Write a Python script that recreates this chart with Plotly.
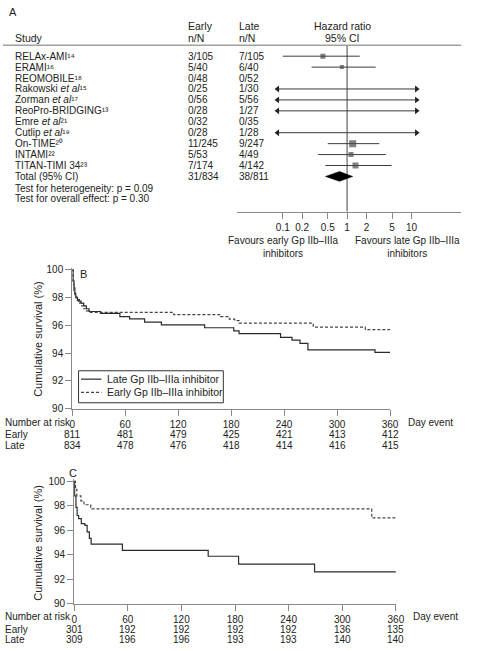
import plotly.graph_objects as go

W, H = 477, 651


def px(x):
    return x / W


def py(y):
    return 1 - y / H


# ---------------- Panel A data ----------------
studies = ["RELAx-AMI\u00b9\u2074", "ERAMI\u00b9\u2076", "REOMOBILE\u00b9\u2078",
           "Rakowski <i>et al</i>\u00b9\u2075", "Zorman <i>et al</i>\u00b9\u2077",
           "ReoPro-BRIDGING\u00b9\u00b3", "Emre <i>et al</i>\u00b2\u00b9",
           "Cutlip <i>et al</i>\u00b9\u2079", "On-TIME\u00b2\u2070", "INTAMI\u00b2\u00b2",
           "TITAN-TIMI 34\u00b2\u00b3", "Total (95% CI)"]
early_nN = ["3/105", "5/40", "0/48", "0/25", "0/56", "0/28", "0/32", "0/28",
            "11/245", "5/53", "7/174", "31/834"]
late_nN = ["7/105", "6/40", "0/52", "1/30", "5/56", "1/27", "0/35", "1/28",
           "9/247", "4/49", "4/142", "38/811"]
hr = [0.42, 0.83, None, None, None, None, None, None, 1.22, 1.15, 1.35]
ci_lo = [0.10, 0.28, None, 0.005, 0.005, 0.005, None, 0.005, 0.50, 0.355, 0.46]
ci_hi = [1.57, 2.78, None, 150, 150, 150, None, 150, 3.16, 4.0, 4.9]
weight = [5, 4, 0, 0, 0, 0, 0, 0, 7, 5, 6]
total_hr, total_lo, total_hi = 0.76, 0.46, 1.22
hr_ticks = [0.1, 0.2, 0.5, 1, 2, 5, 10]
hr_tick_text = ["0.1", "0.2", "0.5", "1", "2", "5", "10"]
tests = ["Test for heterogeneity: p = 0.09", "Test for overall effect: p = 0.30"]

# ---------------- Panel B / C data ----------------
risk_days = [0, 60, 120, 180, 240, 300, 360]
surv_ticks = [90, 92, 94, 96, 98, 100]

b_late_days = [0, 1, 2, 3, 4, 6, 8, 10, 13, 16, 19, 32, 54, 65, 82, 101, 150, 183, 189,
               236, 249, 258, 267, 343, 360]
b_late_surv = [100, 99.2, 98.7, 98.3, 98.0, 97.85, 97.75, 97.6, 97.4, 97.2, 97.0, 96.87,
               96.63, 96.47, 96.24, 96.04, 95.83, 95.6, 95.41, 95.13, 94.94, 94.7, 94.23,
               94.05, 94.05]
b_early_days = [0, 1, 2, 3, 5, 7, 10, 13, 16, 19, 115, 168, 178, 184, 189, 273, 332, 360]
b_early_surv = [100, 99.0, 98.5, 98.1, 97.8, 97.6, 97.4, 97.2, 97.05, 96.94, 96.77, 96.63,
                96.45, 96.35, 96.16, 95.88, 95.69, 95.69]
b_risk_early = [811, 481, 479, 425, 421, 413, 412]
b_risk_late = [834, 478, 476, 418, 414, 416, 415]

c_early_days = [0, 1.5, 3, 7.5, 11, 18.5, 333, 360]
c_early_surv = [100, 99.34, 98.8, 98.4, 98.08, 97.74, 97.0, 97.0]
c_late_days = [0, 0.5, 2, 3.3, 5, 8, 12, 14.5, 17, 19, 54, 150, 184, 269, 360]
c_late_surv = [100, 98.8, 97.87, 97.2, 96.94, 96.54, 96.4, 95.87, 95.34, 94.86, 94.35,
               93.87, 93.23, 92.59, 92.59]
c_risk_early = [301, 192, 192, 192, 192, 136, 135]
c_risk_late = [309, 196, 196, 193, 193, 140, 140]

# ---------------- styling ----------------
FONT = "Liberation Sans, Arial, Helvetica, sans-serif"
TXT = "#222222"
AXC = "#8a8a8a"
LINE = "#2a2a2a"
ARROW_LO, ARROW_HI = 0.083, 12.0

fig = go.Figure()

# ---- Panel A: forest plot ----
ROW_TOP, ROW_BOT = -0.99, 14.23
fig.add_trace(go.Scatter(x=[1, 1], y=[ROW_TOP, ROW_BOT], mode="lines",
                         line=dict(color=AXC, width=1.6), hoverinfo="skip",
                         showlegend=False, xaxis="x", yaxis="y"))
for i in range(len(hr)):
    if ci_lo[i] is None:
        continue
    lo = max(ci_lo[i], ARROW_LO)
    hi = min(ci_hi[i], ARROW_HI)
    fig.add_trace(go.Scatter(x=[lo, hi], y=[i, i], mode="lines",
                             line=dict(color="#3a3a3a", width=1), showlegend=False,
                             xaxis="x", yaxis="y"))
    if ci_lo[i] < ARROW_LO:
        fig.add_trace(go.Scatter(x=[lo], y=[i], mode="markers",
                                 marker=dict(symbol="triangle-left", size=6, color="#222"),
                                 showlegend=False, cliponaxis=False, xaxis="x", yaxis="y"))
    if ci_hi[i] > ARROW_HI:
        fig.add_trace(go.Scatter(x=[hi], y=[i], mode="markers",
                                 marker=dict(symbol="triangle-right", size=6, color="#222"),
                                 showlegend=False, cliponaxis=False, xaxis="x", yaxis="y"))
sq_idx = [i for i in range(len(hr)) if hr[i] is not None]
fig.add_trace(go.Scatter(x=[hr[i] for i in sq_idx], y=sq_idx, mode="markers",
                         marker=dict(symbol="square", size=[weight[i] for i in sq_idx],
                                     color="#4a4a4a", line=dict(width=0)),
                         showlegend=False, xaxis="x", yaxis="y"))
tr = len(studies) - 1
fig.add_trace(go.Scatter(x=[total_lo, total_hr, total_hi, total_hr, total_lo],
                         y=[tr, tr - 0.45, tr, tr + 0.45, tr], mode="lines", fill="toself",
                         fillcolor="black", line=dict(color="black", width=0.5),
                         showlegend=False, xaxis="x", yaxis="y"))

# ---- Panel B ----
fig.add_trace(go.Scatter(x=b_late_days, y=b_late_surv, mode="lines", line_shape="hv",
                         line=dict(color=LINE, width=1.2), name="Late Gp IIb\u2013IIIa inhibitor",
                         showlegend=False, xaxis="x2", yaxis="y2"))
fig.add_trace(go.Scatter(x=b_early_days, y=b_early_surv, mode="lines", line_shape="hv",
                         line=dict(color="#444", width=1.2, dash="3px,2px"),
                         name="Early Gp IIb\u2013IIIa inhibitor",
                         showlegend=False, xaxis="x2", yaxis="y2"))
# ---- Panel C ----
fig.add_trace(go.Scatter(x=c_late_days, y=c_late_surv, mode="lines", line_shape="hv",
                         line=dict(color=LINE, width=1.2), name="Late Gp IIb\u2013IIIa inhibitor",
                         showlegend=False, xaxis="x3", yaxis="y3"))
fig.add_trace(go.Scatter(x=c_early_days, y=c_early_surv, mode="lines", line_shape="hv",
                         line=dict(color="#444", width=1.2, dash="3px,2px"),
                         name="Early Gp IIb\u2013IIIa inhibitor",
                         showlegend=False, xaxis="x3", yaxis="y3"))

ann = []


def text(x, y, s, size=10, xanchor="left", xref="paper", yref="paper", **kw):
    ann.append(dict(x=x, y=y, text=s, xref=xref, yref=yref, xanchor=xanchor,
                    yanchor="middle", showarrow=False,
                    font=dict(size=size, color=TXT, family=FONT), **kw))


# Panel A texts
text(px(4), py(8), "A", size=11)
text(px(10), py(35), "Study", size=10.5)
text(px(188), py(22), "Early", size=10.5)
text(px(188), py(35), "n/N", size=10.5)
text(px(240), py(22), "Late", size=10.5)
text(px(240), py(35), "n/N", size=10.5)
text(px(348), py(22), "Hazard ratio", size=10.5, xanchor="center")
text(px(348), py(35), "95% CI", size=10.5, xanchor="center")
for i, s in enumerate(studies):
    text(px(10), i, s, yref="y")
    text(px(188), i, early_nN[i], yref="y")
    text(px(240), i, late_nN[i], yref="y")
text(px(10), py(187), tests[0])
text(px(10), py(198), tests[1])
text(px(287), py(247), "Favours early Gp IIb\u2013IIIa<br>inhibitors", xanchor="center")
text(px(415), py(247), "Favours late Gp IIb\u2013IIIa<br>inhibitors", xanchor="center")

# Panel B texts
text(px(77), py(274), "B", size=11)
text(px(36), py(340), "Cumulative survival (%)", size=11, xanchor="center", textangle=-90)
text(px(0), py(425.5), "Number at risk", size=10)
text(px(413), py(425.5), "Day event", size=10)
text(px(0), py(437), "Early", size=10)
text(px(0), py(448.5), "Late", size=10)
for d, e, l in zip(risk_days, b_risk_early, b_risk_late):
    text(d, py(437), str(e), xanchor="center", xref="x2")
    text(d, py(448.5), str(l), xanchor="center", xref="x2")

# Panel C texts
text(px(66), py(476), "C", size=11)
text(px(36), py(547), "Cumulative survival (%)", size=11, xanchor="center", textangle=-90)
text(px(0), py(622.5), "Number at risk", size=10)
text(px(419), py(622.5), "Day event", size=10)
text(px(0), py(635), "Early", size=10)
text(px(0), py(645.5), "Late", size=10)
for d, e, l in zip(risk_days, c_risk_early, c_risk_late):
    text(d, py(635), str(e), xanchor="center", xref="x3")
    text(d, py(645.5), str(l), xanchor="center", xref="x3")

# Legend (panel B)
text(px(105), py(381), "Late Gp IIb\u2013IIIa inhibitor", size=10.5)
text(px(105), py(394.5), "Early Gp IIb\u2013IIIa inhibitor", size=10.5)

shapes = [
    dict(type="line", xref="paper", yref="paper", x0=0, x1=px(470), y0=py(42), y1=py(42),
         line=dict(color="#a0a0a0", width=1.5)),
    dict(type="rect", xref="paper", yref="paper", x0=px(77.5), x1=px(226), y0=py(372.5),
         y1=py(405), line=dict(color="#333", width=1), fillcolor="white", layer="above"),
    dict(type="line", xref="paper", yref="paper", x0=px(80), x1=px(101), y0=py(381),
         y1=py(381), line=dict(color=LINE, width=1.2)),
    dict(type="line", xref="paper", yref="paper", x0=px(80), x1=px(101), y0=py(394.5),
         y1=py(394.5), line=dict(color="#444", width=1.2, dash="3px,2px")),
]

axis_common = dict(showline=True, linecolor=AXC, linewidth=1, ticks="outside", ticklen=6,
                   tickcolor=AXC, tickwidth=1, showgrid=False, zeroline=False,
                   tickfont=dict(size=10, color=TXT, family=FONT), fixedrange=True)

lo_log = (240 - 353) / 66.0
hi_log = (470 - 353) / 66.0

fig.update_layout(
    width=W, height=H, margin=dict(l=0, r=0, t=0, b=0),
    paper_bgcolor="white", plot_bgcolor="rgba(0,0,0,0)", showlegend=False,
    font=dict(family=FONT, color=TXT, size=10),
    xaxis=dict(axis_common, type="log", domain=[px(240), px(470)], range=[lo_log, hi_log],
               tickvals=hr_ticks, ticktext=hr_tick_text, anchor="y"),
    yaxis=dict(domain=[py(211), py(42)], range=[ROW_BOT, ROW_TOP], visible=False,
               anchor="x", fixedrange=True),
    xaxis2=dict(axis_common, domain=[px(71), px(397)], range=[0, 360], tickvals=risk_days,
                anchor="y2"),
    yaxis2=dict(axis_common, domain=[py(411), py(270 - 0.15 * 14.1)], range=[90, 100.15],
                tickvals=surv_ticks, anchor="x2"),
    xaxis3=dict(axis_common, domain=[px(73), px(403)], range=[0, 360], tickvals=risk_days,
                anchor="y3"),
    yaxis3=dict(axis_common, domain=[py(609), py(484.7 - 0.15 * 12.56)],
                range=[90, 100.15], tickvals=surv_ticks, anchor="x3"),
    annotations=ann, shapes=shapes,
)

fig.write_html("out.html", config={"displayModeBar": False},
               post_script="document.body.style.margin='0px';")
